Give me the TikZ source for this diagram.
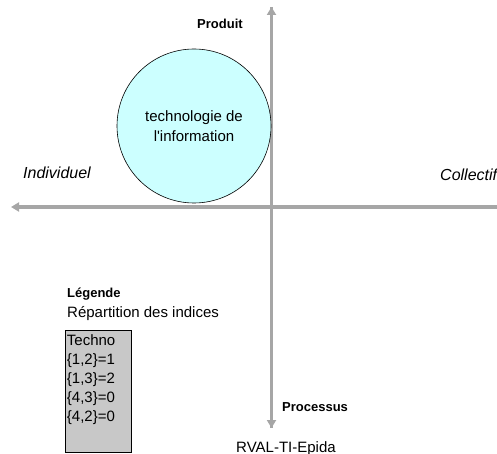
\documentclass[tikz,border=0pt]{standalone}
\usepackage{fontspec}
\setmainfont{Liberation Sans}
\usepackage{tikz}
\usetikzlibrary{arrows.meta}

\definecolor{axisgray}{HTML}{A6A6A6}
\definecolor{bubblecyan}{HTML}{CCFFFF}
\definecolor{legendgray}{HTML}{C8C8C8}

\begin{document}
\begin{tikzpicture}[x=1pt, y=-1pt,
  axis/.style={draw=axisgray, line width=3pt, -{Triangle[width=9pt,length=8pt]}},
  plain/.style={inner sep=0pt, font=\fontsize{15}{19}\selectfont},
  axislabel/.style={inner sep=0pt, font=\fontsize{13}{15}\selectfont\bfseries},
  sidelabel/.style={inner sep=0pt, font=\fontsize{16}{18}\selectfont\itshape}]
\useasboundingbox (0,0) rectangle (497,454);
% axes
\coordinate (west) at (11,207);
\coordinate (east) at (505,207);
\coordinate (north) at (271.5,7);
\coordinate (south) at (271.5,428);
\draw[axis] (east) -- (west);
\draw[axis] (south) -- (north);
\draw[axis] (north) -- (south);
% bubble
\node[circle, draw=black, line width=0.6pt, fill=bubblecyan, minimum size=154pt,
  inner sep=0pt, align=center, font=\fontsize{15}{20}\selectfont] (techinfo) at (194,126)
  {technologie de\\l\textquotesingle information};
% axis labels
\node[axislabel, anchor=base west] (produit) at (197,28.5) {Produit};
\node[axislabel, anchor=base west] (processus) at (282,411.5) {Processus};
\node[sidelabel, anchor=base west] (individuel) at (23,178.5) {Individuel};
\node[sidelabel, anchor=base west] (collectif) at (440,180.5) {Collectif};
\node[plain, anchor=base west] (source) at (236,452) {RVAL-TI-Epida};
% legend
\node[axislabel, anchor=base west] (legende) at (67,297.5) {Légende};
\node[plain, anchor=base west] (repartition) at (67,317) {Répartition des indices};
\node[draw=black, line width=0.6pt, fill=legendgray, minimum width=66pt,
  minimum height=122pt, inner sep=0pt] (legbox) at (98,391) {};
\node[plain, anchor=north west, align=left, inner xsep=2pt, inner ysep=5pt]
  (legtext) at (legbox.north west)
  {Techno\\\{1,2\}=1\\\{1,3\}=2\\\{4,3\}=0\\\{4,2\}=0};
\end{tikzpicture}
\end{document}
